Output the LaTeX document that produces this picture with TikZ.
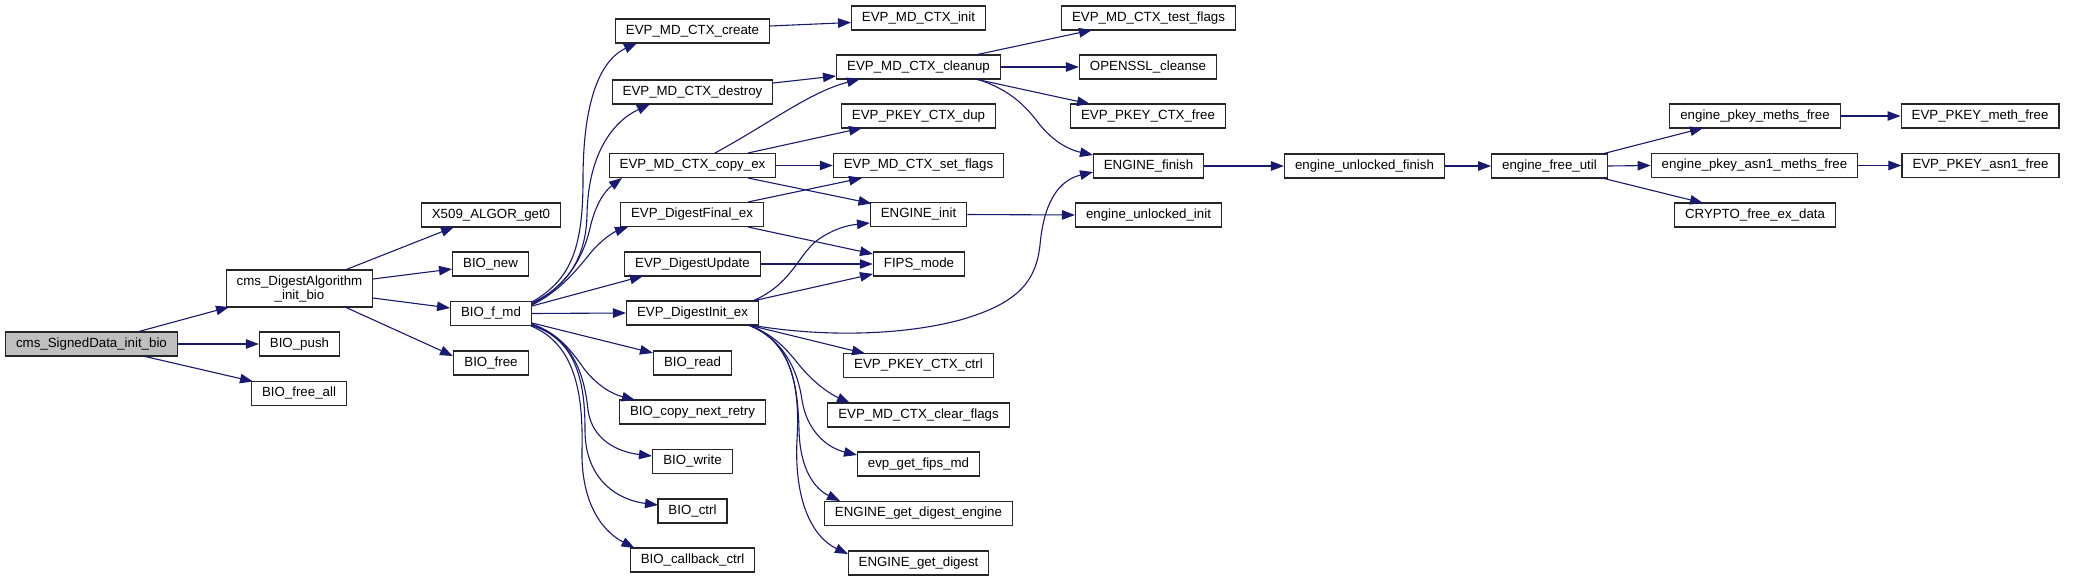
\documentclass[tikz,border=0pt]{standalone}
\usepackage{fontspec}
\setmainfont{Liberation Sans}
\usetikzlibrary{arrows.meta,calc}
\definecolor{edgec}{HTML}{191970}
\definecolor{rootfill}{HTML}{BFBFBF}
\begin{document}
\begin{tikzpicture}[x=1pt,y=-1pt,
  box/.style={draw=black!85, line width=1.2pt, fill=white, minimum height=24pt,
    inner xsep=10.5pt, inner ysep=0pt, font=\fontsize{13.3}{14}\selectfont,
    text height=9.5pt, text depth=2.6pt},
  rootbox/.style={box, fill=rootfill},
  call/.style={draw=edgec, line width=1.1pt, -{Triangle[length=13pt,width=9.5pt]}}]
\useasboundingbox[fill=white] (0,0) rectangle (2076,581);

% column 1-2
\node[rootbox] (sd) at (91.5,344) {cms\_SignedData\_init\_bio};
\node[box, align=center, minimum height=37pt, text height=, text depth=] (da) at (299.5,288.5) {cms\_DigestAlgorithm\\\_init\_bio};
\node[box] (push) at (299.5,344) {BIO\_push};
\node[box] (freeall) at (299,393.5) {BIO\_free\_all};
% column 3
\node[box] (x509) at (491,215) {X509\_ALGOR\_get0};
\node[box] (bionew) at (490.5,264) {BIO\_new};
\node[box] (fmd) at (491,313.5) {BIO\_f\_md};
\node[box] (biofree) at (491,363) {BIO\_free};
% column 4
\node[box] (create) at (692.5,31) {EVP\_MD\_CTX\_create};
\node[box] (destroy) at (692.5,92) {EVP\_MD\_CTX\_destroy};
\node[box] (copyex) at (692.5,165.5) {EVP\_MD\_CTX\_copy\_ex};
\node[box] (final) at (692,214.5) {EVP\_DigestFinal\_ex};
\node[box] (update) at (692.5,264) {EVP\_DigestUpdate};
\node[box] (initex) at (692.5,313) {EVP\_DigestInit\_ex};
\node[box] (read) at (692.5,363) {BIO\_read};
\node[box] (cnr) at (692.5,412) {BIO\_copy\_next\_retry};
\node[box] (write) at (692.5,461.5) {BIO\_write};
\node[box] (ctrl) at (692.5,511) {BIO\_ctrl};
\node[box] (cbctrl) at (692.5,560) {BIO\_callback\_ctrl};
% column 5
\node[box] (mdinit) at (918.5,18) {EVP\_MD\_CTX\_init};
\node[box] (cleanup) at (918.5,67) {EVP\_MD\_CTX\_cleanup};
\node[box] (pkdup) at (918.5,116) {EVP\_PKEY\_CTX\_dup};
\node[box] (setflags) at (918.5,165.5) {EVP\_MD\_CTX\_set\_flags};
\node[box] (enginit) at (918.5,214.5) {ENGINE\_init};
\node[box] (fips) at (919,264) {FIPS\_mode};
\node[box] (pkctrl) at (918.5,365.5) {EVP\_PKEY\_CTX\_ctrl};
\node[box] (clearflags) at (918.5,415) {EVP\_MD\_CTX\_clear\_flags};
\node[box] (fipsmd) at (918.5,464) {evp\_get\_fips\_md};
\node[box] (gde) at (918.5,513.5) {ENGINE\_get\_digest\_engine};
\node[box] (gd) at (918.5,563) {ENGINE\_get\_digest};
% column 6
\node[box] (testflags) at (1148.5,18) {EVP\_MD\_CTX\_test\_flags};
\node[box] (cleanse) at (1148,67) {OPENSSL\_cleanse};
\node[box] (pkfree) at (1148,116) {EVP\_PKEY\_CTX\_free};
\node[box] (engfinish) at (1148.5,166) {ENGINE\_finish};
\node[box] (euinit) at (1148.5,215) {engine\_unlocked\_init};
% columns 7-10
\node[box] (eufinish) at (1364.5,166) {engine\_unlocked\_finish};
\node[box] (efu) at (1549.5,166) {engine\_free\_util};
\node[box] (epmf) at (1755,116) {engine\_pkey\_meths\_free};
\node[box] (epamf) at (1754.5,165.5) {engine\_pkey\_asn1\_meths\_free};
\node[box] (cfed) at (1755,215) {CRYPTO\_free\_ex\_data};
\node[box] (pmf) at (1980,116) {EVP\_PKEY\_meth\_free};
\node[box] (paf) at (1980.5,165.5) {EVP\_PKEY\_asn1\_free};

% edges
\draw[call] ($(sd)+(45.5,-12)$) -- ($(da)+(-70.5,18.5)$);
\draw[call] (sd.east) -- (push.west);
\draw[call] ($(sd)+(51.5,12)$) -- ($(freeall)+(-46,-12)$);

\draw[call] ($(da)+(45.5,-18.5)$) -- ($(x509)+(-37,12)$);
\draw[call] ($(da)+(73.5,-9.5)$) -- ($(bionew)+(-38.5,5)$);
\draw[call] ($(da)+(73.5,9.5)$) -- ($(fmd)+(-41,-5.5)$);
\draw[call] ($(da)+(45.5,18.5)$) -- ($(biofree)+(-38,-7)$);

\draw[call] ($(fmd)+(41,-11.5)$) .. controls (570,280) and (583,250) .. (583,180)
  .. controls (583,90) and (605,58) .. ($(create)+(-55.5,12)$);
\draw[call] ($(fmd)+(41,-10.5)$) .. controls (570,285) and (586,255) .. (587,215)
  .. controls (588,155) and (612,122) .. ($(destroy)+(-42.5,12)$);
\draw[call] ($(fmd)+(41,-9.5)$) .. controls (568,286) and (584,255) .. (590,228)
  .. controls (596,202) and (606,190) .. ($(copyex)+(-70.5,12.5)$);
\draw[call] ($(fmd)+(41,-8.5)$) .. controls (562,290) and (578,268) .. (593,250)
  .. controls (604,238) and (614,232) .. ($(final)+(-64,12.5)$);
\draw[call] ($(fmd)+(41,-7.5)$) -- ($(update)+(-49.5,12)$);
\draw[call] (fmd.east) -- (initex.west);
\draw[call] ($(fmd)+(41,9.5)$) -- ($(read)+(-39.5,-10)$);
\draw[call] ($(fmd)+(41,10.5)$) .. controls (560,334) and (572,352) .. (585,370)
  .. controls (598,386) and (612,394) .. ($(cnr)+(-57.5,-12)$);
\draw[call] ($(fmd)+(41,11.5)$) .. controls (575,338) and (585,380) .. (588,410)
  .. controls (592,440) and (618,452) .. ($(write)+(-40.5,-5.5)$);
\draw[call] ($(fmd)+(41,12)$) .. controls (578,340) and (585,385) .. (585,430)
  .. controls (585,480) and (618,500) .. ($(ctrl)+(-34.5,-6)$);
\draw[call] ($(fmd)+(40,12.5)$) .. controls (578,345) and (583,400) .. (582,450)
  .. controls (581,500) and (600,530) .. ($(cbctrl)+(-58,-12)$);

\draw[call] ($(create)+(77.5,-5)$) -- ($(mdinit)+(-67.5,4.5)$);
\draw[call] ($(destroy)+(80.5,-9)$) -- ($(cleanup)+(-82.5,9)$);
\draw[call] ($(copyex)+(22.5,-12.5)$) .. controls (770,123) and (810,92) .. ($(cleanup)+(-58.5,12)$);
\draw[call] ($(copyex)+(55.5,-12.5)$) -- ($(pkdup)+(-56.5,12)$);
\draw[call] (copyex.east) -- (setflags.west);
\draw[call] ($(copyex)+(55.5,12.5)$) -- ($(enginit)+(-47,-11)$);
\draw[call] ($(final)+(56,-12.5)$) -- ($(setflags)+(-56.5,12.5)$);
\draw[call] ($(final)+(56,12.5)$) -- ($(fips)+(-46,-10)$);
\draw[call] (update.east) -- (fips.west);
\draw[call] ($(initex)+(60,-12)$) .. controls (790,285) and (797,258) .. (815,242)
  .. controls (833,228) and (850,225) .. ($(enginit)+(-48.5,8.5)$);
\draw[call] ($(initex)+(60,-12)$) -- ($(fips)+(-46,10)$);
\draw[call] ($(initex)+(58,12)$) .. controls (820,337) and (900,336) .. (960,320)
  .. controls (1020,303) and (1036,280) .. (1040,245)
  .. controls (1044,200) and (1060,180) .. ($(engfinish)+(-55.5,6)$);
\draw[call] ($(initex)+(56,12)$) -- ($(pkctrl)+(-53.5,-12)$);
\draw[call] ($(initex)+(56,12)$) .. controls (775,335) and (787,350) .. (800,366)
  .. controls (814,383) and (830,394) .. ($(clearflags)+(-68.5,-12)$);
\draw[call] ($(initex)+(56,12)$) .. controls (785,340) and (798,372) .. (802,400)
  .. controls (807,432) and (828,448) .. ($(fipsmd)+(-61.5,-9)$);
\draw[call] ($(initex)+(56,12)$) .. controls (790,340) and (798,382) .. (799,430)
  .. controls (800,470) and (815,489) .. ($(gde)+(-78.5,-12.5)$);
\draw[call] ($(initex)+(56,12)$) .. controls (793,342) and (800,390) .. (797,440)
  .. controls (794,500) and (812,537) .. ($(gd)+(-70.5,-9)$);

\draw[call] ($(cleanup)+(56.5,-12)$) -- ($(testflags)+(-56.5,12)$);
\draw[call] (cleanup.east) -- (cleanse.west);
\draw[call] ($(cleanup)+(56.5,12)$) -- ($(pkfree)+(-58,-12)$);
\draw[call] ($(cleanup)+(58.5,12)$) .. controls (1010,90) and (1025,105) .. (1040,125)
  .. controls (1055,143) and (1070,150) .. ($(engfinish)+(-55.5,-11)$);
\draw[call] (enginit.east) -- (euinit.west);
\draw[call] (engfinish.east) -- (eufinish.west);
\draw[call] (eufinish.east) -- (efu.west);
\draw[call] ($(efu)+(52.5,-12)$) -- ($(epmf)+(-52,12)$);
\draw[call] (efu.east) -- (epamf.west);
\draw[call] ($(efu)+(52.5,12)$) -- ($(cfed)+(-52,-12)$);
\draw[call] (epmf.east) -- (pmf.west);
\draw[call] (epamf.east) -- (paf.west);
\end{tikzpicture}
\end{document}
